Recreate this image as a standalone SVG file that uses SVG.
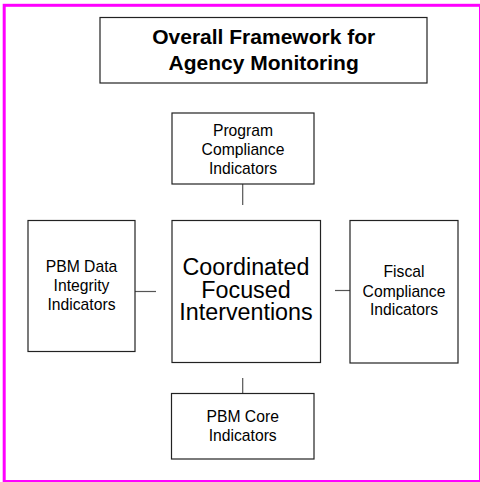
<svg xmlns="http://www.w3.org/2000/svg" width="480" height="482" viewBox="0 0 480 482">
<style>
.box{fill:#fff;stroke:#222;stroke-width:1.2}
.t{font-family:"Liberation Sans",Arial,sans-serif;fill:#000;text-anchor:middle}
.s{font-size:15.7px}
.c{font-size:23.3px}
.h{font-size:21px;font-weight:bold}
.ln{stroke:#555;stroke-width:1.2;fill:none}
</style>
<rect x="0" y="0" width="480" height="482" fill="#fff"/>
<rect x="4.2" y="5.3" width="476.3" height="476.2" fill="none" stroke="#ff00ff" stroke-width="3"/>
<g id="connectors">
<line class="ln" x1="242.7" y1="184" x2="242.7" y2="205"/>
<line class="ln" x1="135" y1="291.5" x2="156" y2="291.5"/>
<line class="ln" x1="335" y1="290.5" x2="350" y2="290.5"/>
<line class="ln" x1="242.7" y1="378" x2="242.7" y2="393.5"/>
</g>
<g id="title">
<rect class="box" x="100" y="17.5" width="327" height="65.5"/>
<text class="t h" x="263.7" y="44">Overall Framework for</text>
<text class="t h" x="263.7" y="69.5">Agency Monitoring</text>
</g>
<g id="program">
<rect class="box" x="172" y="113" width="142" height="71"/>
<text class="t s" x="243" y="136">Program</text>
<text class="t s" x="243" y="155">Compliance</text>
<text class="t s" x="243" y="174">Indicators</text>
</g>
<g id="center">
<rect class="box" x="172" y="220.5" width="148.5" height="142"/>
<text class="t c" x="246" y="275">Coordinated</text>
<text class="t c" x="246" y="297.5">Focused</text>
<text class="t c" x="246" y="320">Interventions</text>
</g>
<g id="dataintegrity">
<rect class="box" x="28" y="220.5" width="107" height="131"/>
<text class="t s" x="81.5" y="271.7">PBM Data</text>
<text class="t s" x="81.5" y="290.5">Integrity</text>
<text class="t s" x="81.5" y="310">Indicators</text>
</g>
<g id="fiscal">
<rect class="box" x="350" y="220.5" width="108" height="142.5"/>
<text class="t s" x="404" y="277.3">Fiscal</text>
<text class="t s" x="404" y="296.5">Compliance</text>
<text class="t s" x="404" y="315">Indicators</text>
</g>
<g id="core">
<rect class="box" x="171.5" y="393.5" width="142.5" height="65.5"/>
<text class="t s" x="242.7" y="422.3">PBM Core</text>
<text class="t s" x="242.7" y="441">Indicators</text>
</g>
</svg>
